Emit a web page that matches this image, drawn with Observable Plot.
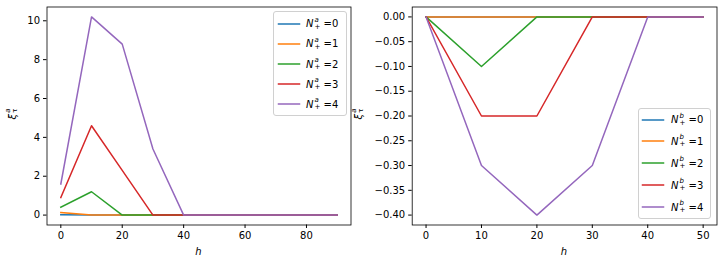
<!DOCTYPE html>
<html>
<head>
<meta charset="utf-8">
<script src="https://cdn.jsdelivr.net/npm/d3@7"></script>
<script src="https://cdn.jsdelivr.net/npm/@observablehq/plot@0.6"></script>
<style>
  html, body { margin: 0; padding: 0; background: #fff; }
  #fig { position: relative; width: 723px; height: 264px; font-family: "DejaVu Sans", sans-serif; color: #000; overflow: hidden; }
  .panel { position: absolute; top: 0; }
  .legend { position: absolute; border: 1px solid #d0d0d0; border-radius: 3px; background: rgba(255,255,255,0.8); box-sizing: border-box; }
  .entry { position: absolute; height: 0; }
  .swatch { position: absolute; top: -5px; overflow: visible; }
  .lab { position: absolute; top: 0; transform: translateY(-50%); font-size: 10px; white-space: nowrap; display: flex; align-items: center; }
  .it { font-style: italic; }
  .ss { display: inline-flex; flex-direction: column; font-size: 7px; line-height: 7px; margin-left: 1px; }
  .ss .sp { font-style: italic; }
  .ylab { position: absolute; font-size: 10px; transform: translate(-50%, -50%) rotate(-90deg); white-space: nowrap; display: flex; align-items: center; }
  .xlab { position: absolute; font-size: 10px; font-style: italic; transform: translate(-50%, -50%); }
</style>
</head>
<body>
<div id="fig">
  <div id="left" class="panel" style="left:0px"></div>
  <div id="right" class="panel" style="left:360px"></div>
</div>
<script>
// ---- Data ----
const series = [0, 1, 2, 3, 4];
const colors = ["#1f77b4", "#ff7f0e", "#2ca02c", "#d62728", "#9467bd"];

// Left panel: xi^a_tau vs h
const hA = [0, 10, 20, 30, 40, 50, 60, 70, 80, 90];
const xiA_0 = [0.02, 0, 0, 0, 0, 0, 0, 0, 0, 0];
const xiA_1 = [0.13, 0, 0, 0, 0, 0, 0, 0, 0, 0];
const xiA_2 = [0.41, 1.2, 0, 0, 0, 0, 0, 0, 0, 0];
const xiA_3 = [0.9, 4.6, 2.3, 0, 0, 0, 0, 0, 0, 0];
const xiA_4 = [1.6, 10.2, 8.8, 3.4, 0, 0, 0, 0, 0, 0];
const xTicksA = [0, 20, 40, 60, 80];
const yTicksA = [0, 2, 4, 6, 8, 10];

// Right panel: xi^b_tau vs h
const hB = [0, 10, 20, 30, 40, 50];
const xiB_0 = [0, 0, 0, 0, 0, 0];
const xiB_1 = [0, 0, 0, 0, 0, 0];
const xiB_2 = [0, -0.1, 0, 0, 0, 0];
const xiB_3 = [0, -0.2, -0.2, 0, 0, 0];
const xiB_4 = [0, -0.3, -0.4, -0.3, 0, 0];
const xTicksB = [0, 10, 20, 30, 40, 50];
const yTicksB = [0, -0.05, -0.1, -0.15, -0.2, -0.25, -0.3, -0.35, -0.4];

// ---- Build tables ----
function table(h, ys) {
  const rows = [];
  ys.forEach((vals, k) => vals.forEach((v, i) => rows.push({h: h[i], v, s: series[k]})));
  return rows;
}
const dataA = table(hA, [xiA_0, xiA_1, xiA_2, xiA_3, xiA_4]);
const dataB = table(hB, [xiB_0, xiB_1, xiB_2, xiB_3, xiB_4]);

function pad(ext) { const d = (ext[1] - ext[0]) * 0.05; return [ext[0] - d, ext[1] + d]; }

function panel(data, xTicks, yTicks, yFmt, dims) {
  return Plot.plot({
    width: dims.width, height: 264,
    marginLeft: dims.ml, marginRight: dims.mr, marginTop: 6.5, marginBottom: 39.5,
    style: {fontFamily: "DejaVu Sans", fontSize: "10px", color: "#000", background: "transparent", overflow: "visible"},
    x: {domain: pad(d3.extent(data, d => d.h)), ticks: xTicks, tickSize: 3.5, tickPadding: 3.5, label: null},
    y: {domain: pad(d3.extent(data, d => d.v)), ticks: yTicks, tickSize: 3.5, tickPadding: 3.5, tickFormat: yFmt, label: null},
    color: {domain: series, range: colors},
    marks: [
      Plot.lineY(data, {x: "h", y: "v", z: "s", stroke: "s", strokeWidth: 1.5, strokeLinejoin: "round", strokeLinecap: "square"}),
      Plot.frame({stroke: "#000", strokeWidth: 0.8})
    ]
  });
}

document.getElementById("left").append(panel(dataA, xTicksA, yTicksA, d3.format("d"), {width: 360, ml: 46.5, mr: 9.5}));
document.getElementById("right").append(panel(dataB, xTicksB, yTicksB, d3.format(".2f"), {width: 363, ml: 51.7, mr: 6.5}));

// ---- Overlays: axis labels and legends ----
const fig = document.getElementById("fig");
function el(tag, cls, style, html) {
  const e = document.createElement(tag);
  if (cls) e.className = cls;
  if (style) e.setAttribute("style", style);
  if (html != null) e.innerHTML = html;
  return e;
}
const yLabelHTML = '<span class="it">ξ</span><span class="ss"><span class="sp">a</span><span>τ</span></span>';
fig.append(el("div", "ylab", "left:12px;top:114px", yLabelHTML));
fig.append(el("div", "ylab", "left:358px;top:114px", yLabelHTML));
fig.append(el("div", "xlab", "left:198.5px;top:251px", "h"));
fig.append(el("div", "xlab", "left:564px;top:251px", "h"));

function legend(letter, box, firstY, step, swX, txtX) {
  const lg = el("div", "legend", `left:${box[0]}px;top:${box[1]}px;width:${box[2]}px;height:${box[3]}px`);
  fig.append(lg);
  series.forEach((s, i) => {
    const y = firstY + i * step - box[1];
    const e = el("div", "entry", `left:0;top:${y}px`);
    e.append(el("div", null, "", `<svg class="swatch" width="22" height="10" style="left:${swX - box[0]}px"><line x1="0.5" x2="21.5" y1="5" y2="5" stroke="${colors[i]}" stroke-width="1.5" stroke-linecap="square"/></svg>`));
    e.append(el("div", "lab", `left:${txtX - box[0]}px`,
      `<span class="it">N</span><span class="ss"><span class="sp">${letter}</span><span>+</span></span><span>&nbsp;=${s}</span>`));
    lg.append(e);
  });
}
legend("a", [273, 11, 74, 105], 22.7, 20.15, 276.5, 305);
legend("b", [638, 108, 73, 111], 118.5, 21.9, 641, 670);
</script>
</body>
</html>
